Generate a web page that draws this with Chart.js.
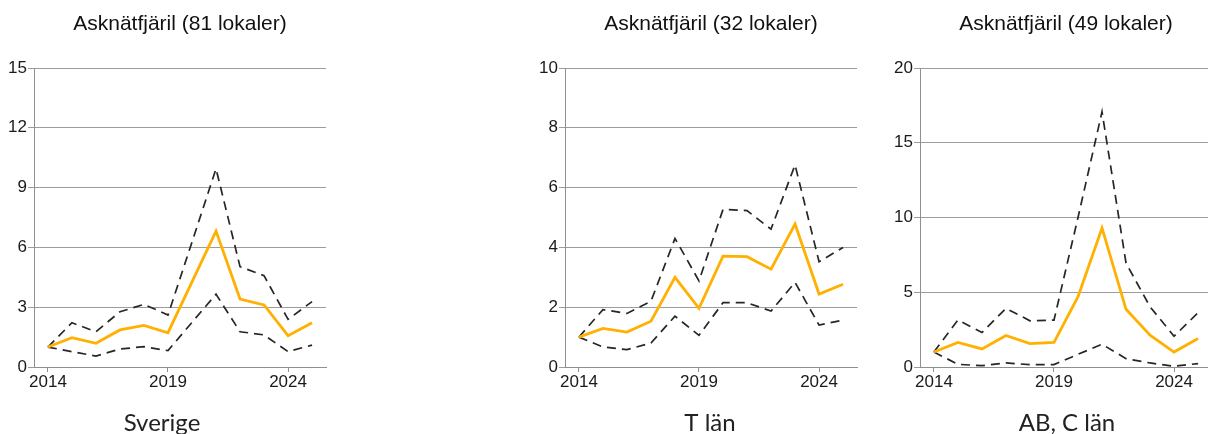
<!DOCTYPE html>
<html>
<head>
<meta charset="utf-8">
<script src="https://cdn.jsdelivr.net/npm/chart.js@4.4.1/dist/chart.umd.min.js"></script>
<style>
  html, body { margin: 0; padding: 0; background: #fff; }
  body { width: 1208px; height: 434px; position: relative; overflow: hidden; }
  .panel { position: absolute; top: 0; height: 434px; }
</style>
</head>
<body>
<div class="panel" id="p1" style="left:0px;width:340px"><canvas id="c1"></canvas></div>
<div class="panel" id="p2" style="left:520px;width:340px"><canvas id="c2"></canvas></div>
<div class="panel" id="p3" style="left:870px;width:342px"><canvas id="c3"></canvas></div>
<script>
// Years of the butterfly survey
const years = [2014, 2015, 2016, 2017, 2018, 2019, 2020, 2021, 2022, 2023, 2024, 2025];
const yearTicks = [2014, 2019, 2024];

// Sverige (81 lokaler): index and confidence band
const sverigeIndex = [1, 1.47, 1.19, 1.86, 2.09, 1.72, 4.27, 6.82, 3.41, 3.11, 1.57, 2.22];
const sverigeUpper = [1, 2.22, 1.77, 2.77, 3.14, 2.61, 6.27, 9.95, 5.03, 4.58, 2.39, 3.28];
const sverigeLower = [1, 0.77, 0.55, 0.90, 1.02, 0.82, 2.24, 3.65, 1.77, 1.61, 0.77, 1.10];
const sverigeYTicks = [0, 3, 6, 9, 12, 15];

// T län (32 lokaler)
const tIndex = [1, 1.29, 1.17, 1.53, 3.00, 1.96, 3.71, 3.69, 3.27, 4.78, 2.44, 2.77];
const tUpper = [1, 1.92, 1.79, 2.20, 4.30, 2.88, 5.27, 5.23, 4.61, 6.76, 3.52, 4.00];
const tLower = [1, 0.67, 0.58, 0.80, 1.70, 1.06, 2.15, 2.15, 1.87, 2.83, 1.40, 1.57];
const tYTicks = [0, 2, 4, 6, 8, 10];

// AB, C län (49 lokaler)
const abcIndex = [1, 1.64, 1.21, 2.11, 1.57, 1.64, 4.70, 9.30, 3.86, 2.13, 1.00, 1.90];
const abcUpper = [1, 3.14, 2.31, 3.92, 3.09, 3.14, 10.0, 17.07, 6.95, 4.03, 2.06, 3.63];
const abcLower = [1, 0.18, 0.09, 0.27, 0.16, 0.16, 0.85, 1.52, 0.56, 0.27, 0.05, 0.23];
const abcYTicks = [0, 5, 10, 15, 20];

const titles = ['Asknätfjäril (81 lokaler)', 'Asknätfjäril (32 lokaler)', 'Asknätfjäril (49 lokaler)'];
const regions = ['Sverige', 'T län', 'AB, C län'];

const ORANGE = '#FFB000';
const DASH = '#262626';
const GRID = '#9c9c9c';
const AXIS = '#8f8f8f';
const TICKFONT = { family: '"Liberation Sans", Arial, sans-serif', size: 17 };

const toPoints = (vals) => years.map((y, i) => ({ x: y, y: vals[i] }));

// Draws the panel heading above the plot and the region name below it
const textPlugin = {
  id: 'panelText',
  afterDraw(chart, args, opts) {
    const ctx = chart.ctx;
    const a = chart.chartArea;
    ctx.save();
    ctx.fillStyle = '#111';
    ctx.textAlign = 'center';
    ctx.textBaseline = 'middle';
    ctx.font = '21px "Liberation Sans", Arial, sans-serif';
    ctx.fillText(opts.title, (a.left + a.right) / 2, 24);
    ctx.fillStyle = '#222';
    ctx.textBaseline = 'alphabetic';
    ctx.font = '24px Lato, "Open Sans", sans-serif';
    ctx.fillText(opts.region, (a.left + a.right) / 2 + opts.regionShift, 431);
    ctx.restore();
  }
};

function makeChart(id, idx, up, lo, yTicks, title, region, opt) {
  const yMax = yTicks[yTicks.length - 1];
  const band = (vals) => ({
    data: toPoints(vals), borderColor: DASH, borderWidth: 1.7,
    borderDash: [9, 6], pointRadius: 0, fill: false, tension: 0, order: 2
  });
  return new Chart(document.getElementById(id), {
    type: 'line',
    data: {
      datasets: [
        band(up),
        band(lo),
        { data: toPoints(idx), borderColor: ORANGE, borderWidth: 2.8,
          pointRadius: 0, fill: false, tension: 0, order: 1 }
      ]
    },
    options: {
      responsive: true,
      maintainAspectRatio: false,
      animation: false,
      layout: { padding: { left: 0, right: opt.right, top: 68, bottom: 0 } },
      plugins: {
        legend: { display: false },
        tooltip: { enabled: false },
        panelText: { title: title, region: region, regionShift: opt.regionShift }
      },
      scales: {
        x: {
          type: 'linear',
          min: 2013.42,
          max: 2025.58,
          afterBuildTicks: (s) => { s.ticks = yearTicks.map(v => ({ value: v })); },
          afterFit: (s) => { s.height = 67; },
          grid: { drawOnChartArea: false, drawTicks: true, tickLength: 5, color: AXIS },
          border: { display: true, color: AXIS, width: 1 },
          ticks: { color: '#1a1a1a', font: TICKFONT, padding: 0, maxRotation: 0,
                    callback: (v) => String(v) }
        },
        y: {
          min: 0,
          max: yMax,
          afterBuildTicks: (s) => { s.ticks = yTicks.map(v => ({ value: v })); },
          afterFit: (s) => { s.width = opt.axisWidth; },
          grid: { color: GRID, lineWidth: 1, tickLength: 6, drawTicks: true },
          border: { display: true, color: AXIS, width: 1 },
          ticks: { color: '#1a1a1a', font: TICKFONT, padding: 1 }
        }
      }
    },
    plugins: [textPlugin]
  });
}

makeChart('c1', sverigeIndex, sverigeUpper, sverigeLower, sverigeYTicks, titles[0], regions[0],
  { axisWidth: 34, right: 14, regionShift: -18 });
makeChart('c2', tIndex, tUpper, tLower, tYTicks, titles[1], regions[1],
  { axisWidth: 45, right: 3, regionShift: -1 });
makeChart('c3', abcIndex, abcUpper, abcLower, abcYTicks, titles[2], regions[2],
  { axisWidth: 50, right: 0, regionShift: 1 });
</script>
</body>
</html>
